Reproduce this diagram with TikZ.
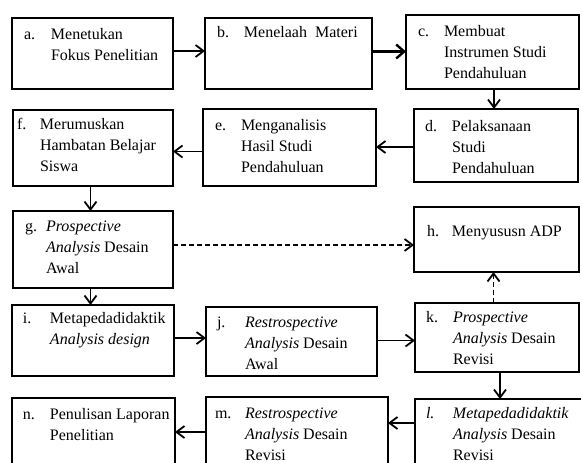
\documentclass[tikz,border=0pt]{standalone}
\usepackage{fontspec}
\setmainfont{Liberation Serif}
\usetikzlibrary{arrows.meta,calc}
\tikzset{
  box/.style={draw, line width=2.6pt, inner sep=0pt, outer sep=0pt},
  txt/.style={anchor=base west, inner sep=0pt, outer sep=0pt,
    font=\fontsize{16}{21}\selectfont},
  arr/.style={line width=1.8pt, -{Straight Barb[length=8pt,width=12pt,line width=1.8pt]}},
  thickarr/.style={line width=2.6pt, -{Straight Barb[length=8pt,width=14pt,line width=2.4pt]}},
  dasharr/.style={arr, dash pattern=on 5pt off 3pt},
}
\newcommand{\bx}[4]{\begin{tabular}[t]{@{}p{#1}@{}l@{}}#2&#3\\#4\end{tabular}}
\begin{document}
\begin{tikzpicture}[x=1pt,y=-1pt]
\useasboundingbox (0,0) rectangle (581,463);
\clip (0,0) rectangle (581,463);
\fill[white] (0,0) rectangle (581,463);
% boxes
\node[box, minimum width=161pt, minimum height=71pt] (a) at (92.5,53.5) {};
\node[box, minimum width=167pt, minimum height=71pt] (b) at (288.5,53.5) {};
\node[box, minimum width=173pt, minimum height=74pt] (c) at (492.5,52) {};
\node[box, minimum width=164pt, minimum height=73pt] (d) at (496,145.5) {};
\node[box, minimum width=173pt, minimum height=77pt] (e) at (289.5,147.5) {};
\node[box, minimum width=160pt, minimum height=76pt] (f) at (93,148) {};
\node[box, minimum width=160pt, minimum height=77pt] (g) at (93,249.5) {};
\node[box, minimum width=165pt, minimum height=65pt] (h) at (496.5,239.5) {};
\node[box, minimum width=162pt, minimum height=71pt] (i) at (93,340.5) {};
\node[box, minimum width=171pt, minimum height=69pt] (j) at (291.5,341.5) {};
\node[box, minimum width=164pt, minimum height=69pt] (k) at (497,337.5) {};
\node[box, minimum width=190pt, minimum height=81pt] (l) at (510,439.5) {};
\node[box, minimum width=182pt, minimum height=83pt] (m) at (297,438.5) {};
\node[box, minimum width=163pt, minimum height=82pt] (n) at (93.5,439) {};
% texts
\node[txt] (ta) at ($(a.north west)+(12,21)$) {\bx{27pt}{a.}{Menetukan}{&Fokus Penelitian}};
\node[txt] (tb) at ($(b.north west)+(12,19)$) {\bx{27pt}{b.}{Menelaah\ \ Materi}{}};
\node[txt] (tc) at ($(c.north west)+(12,21)$) {\bx{26pt}{c.}{Membuat}{&Instrumen Studi\\&Pendahuluan}};
\node[txt] (td) at ($(d.north west)+(11,22)$) {\bx{27pt}{d.}{Pelaksanaan}{&Studi\\&Pendahuluan}};
\node[txt] (te) at ($(e.north west)+(12,21)$) {\bx{26pt}{e.}{Menganalisis}{&Hasil Studi\\&Pendahuluan}};
\node[txt] (tf) at ($(f.north west)+(4,19)$) {\bx{23pt}{f.}{Merumuskan}{&Hambatan Belajar\\&Siswa}};
\node[txt] (tg) at ($(g.north west)+(12,20)$) {\bx{21pt}{g.}{\textit{Prospective}}{&\textit{Analysis} Desain\\&Awal}};
\node[txt] (th) at ($(h.north west)+(13,29)$) {\bx{25pt}{h.}{Menyususn ADP}{}};
\node[txt] (ti) at ($(i.north west)+(11,18)$) {\bx{27pt}{i.}{Metapedadidaktik}{&\textit{Analysis design}}};
\node[txt] (tj) at ($(j.north west)+(11,20)$) {\bx{28pt}{j.}{\textit{Restrospective}}{&\textit{Analysis} Desain\\&Awal}};
\node[txt] (tk) at ($(k.north west)+(11,19)$) {\bx{27pt}{k.}{\textit{Prospective}}{&\textit{Analysis} Desain\\&Revisi}};
\node[txt] (tl) at ($(l.north west)+(11,19)$) {\bx{27pt}{\textit{l.}}{\textit{Metapedadidaktik}}{&\textit{Analysis} Desain\\&Revisi}};
\node[txt] (tm) at ($(m.north west)+(9,21)$) {\bx{30pt}{m.}{\textit{Restrospective}}{&\textit{Analysis} Desain\\&Revisi}};
\node[txt] (tn) at ($(n.north west)+(11,21)$) {\bx{27pt}{n.}{Penulisan Laporan}{&Penelitian}};
% connectors
\draw[arr] ([yshift=2.5pt]a.east) -- ([yshift=2.5pt]a.east -| b.west);
\draw[thickarr] ([yshift=2pt]b.east) -- ([yshift=2pt]b.east -| c.west);
\draw[arr] ([xshift=1.5pt]c.south) -- ([xshift=1.5pt]c.south |- d.north);
\draw[arr] ([yshift=-1.5pt]d.west) -- ([yshift=-1.5pt]d.west -| e.east);
\draw[arr] ([yshift=-4pt]e.west) -- ([yshift=-4pt]e.west -| f.east);
\draw[arr] ([xshift=-2.5pt]f.south) -- ([xshift=-2.5pt]f.south |- g.north);
\draw[dasharr] ([yshift=4.5pt]g.east) -- ([yshift=4.5pt]g.east -| h.west);
\draw[arr] ([xshift=-2.5pt]g.south) -- ([xshift=-2.5pt]g.south |- i.north);
\draw[arr] ([yshift=2.5pt]i.east) -- ([yshift=2.5pt]i.east -| j.west);
\draw[arr] ([yshift=1pt]j.east) -- ([yshift=1pt]j.east -| k.west);
\draw[dasharr] ([xshift=-3.5pt]k.north) -- ([xshift=-3.5pt]k.north |- h.south);
\draw[arr] ([xshift=3pt]k.south) -- ([xshift=3pt]k.south |- l.north);
\draw[arr] ([yshift=16.5pt]l.west) -- ([yshift=16.5pt]l.west -| m.east);
\draw[arr] ([yshift=6.5pt]m.west) -- ([yshift=6.5pt]m.west -| n.east);
\end{tikzpicture}
\end{document}
